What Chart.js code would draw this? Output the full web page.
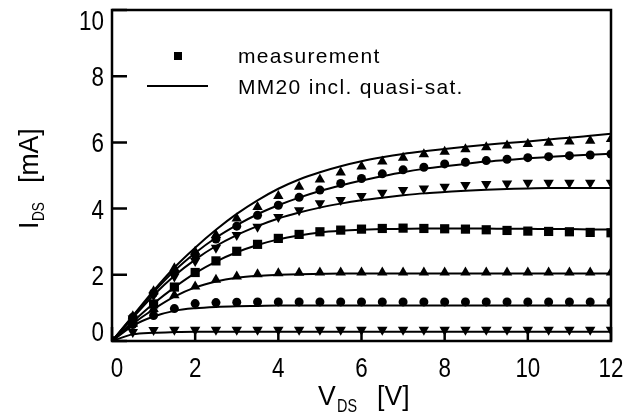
<!DOCTYPE html>
<html>
<head>
<meta charset="utf-8">
<script src="https://cdn.jsdelivr.net/npm/chart.js@4.4.1/dist/chart.umd.min.js"></script>
<style>
  html, body { margin: 0; padding: 0; background: #fff; }
  #wrap { width: 641px; height: 419px; }
</style>
</head>
<body>
<div id="wrap"><canvas id="iv-chart" width="641" height="419"></canvas></div>
<script>
// drain voltage grid (V)
const vds = [0, 0.5, 1, 1.5, 2, 2.5, 3, 3.5, 4, 4.5, 5, 5.5, 6, 6.5, 7, 7.5, 8, 8.5, 9, 9.5, 10, 10.5, 11, 11.5, 12];

// measured drain current (mA), one list per gate bias, top curve first
const measTriTop = [0, 0.75, 1.5, 2.2, 2.7, 3.2, 3.7, 4.05, 4.38, 4.66, 4.88, 5.09, 5.27, 5.42, 5.54, 5.64, 5.72, 5.79, 5.85, 5.91, 5.95, 5.99, 6.03, 6.05, 6.1];
const measDotTop = [0, 0.72, 1.45, 2.08, 2.6, 3.08, 3.47, 3.8, 4.1, 4.34, 4.56, 4.76, 4.91, 5.05, 5.17, 5.25, 5.35, 5.4, 5.45, 5.49, 5.54, 5.57, 5.6, 5.62, 5.65];
const measInvTop = [0, 0.68, 1.38, 1.95, 2.42, 2.82, 3.2, 3.45, 3.75, 3.95, 4.16, 4.26, 4.38, 4.48, 4.56, 4.61, 4.66, 4.71, 4.74, 4.76, 4.78, 4.78, 4.78, 4.78, 4.78];
const measSquare = [0, 0.58, 1.12, 1.63, 2.07, 2.42, 2.71, 2.92, 3.1, 3.22, 3.3, 3.35, 3.38, 3.4, 3.41, 3.4, 3.39, 3.38, 3.36, 3.34, 3.32, 3.31, 3.3, 3.28, 3.27];
const measTriLow = [0, 0.52, 0.97, 1.38, 1.65, 1.85, 1.95, 2.02, 2.05, 2.06, 2.07, 2.07, 2.07, 2.07, 2.07, 2.07, 2.07, 2.07, 2.07, 2.07, 2.07, 2.07, 2.07, 2.07, 2.07];
const measDotLow = [0, 0.5, 0.77, 0.98, 1.13, 1.16, 1.17, 1.18, 1.18, 1.18, 1.18, 1.18, 1.18, 1.18, 1.18, 1.18, 1.18, 1.18, 1.18, 1.18, 1.18, 1.18, 1.18, 1.18, 1.18];
const measInvLow = [0, 0.27, 0.33, 0.34, 0.34, 0.34, 0.34, 0.34, 0.34, 0.34, 0.34, 0.34, 0.34, 0.34, 0.34, 0.34, 0.34, 0.34, 0.34, 0.34, 0.34, 0.34, 0.34, 0.34, 0.34];

// MM20 model (mA), same order
const modTriTop = [0, 0.76, 1.52, 2.22, 2.82, 3.36, 3.84, 4.25, 4.6, 4.88, 5.1, 5.28, 5.43, 5.55, 5.65, 5.73, 5.8, 5.87, 5.93, 5.98, 6.03, 6.09, 6.14, 6.2, 6.26];
const modDotTop = [0, 0.74, 1.47, 2.12, 2.66, 3.12, 3.5, 3.83, 4.1, 4.33, 4.53, 4.7, 4.85, 4.98, 5.1, 5.2, 5.28, 5.35, 5.42, 5.47, 5.52, 5.56, 5.6, 5.63, 5.66];
const modInvTop = [0, 0.7, 1.38, 1.97, 2.46, 2.87, 3.2, 3.47, 3.7, 3.88, 4.03, 4.15, 4.25, 4.33, 4.4, 4.46, 4.5, 4.54, 4.57, 4.59, 4.61, 4.62, 4.62, 4.62, 4.62];
const modSquare = [0, 0.58, 1.13, 1.62, 2.05, 2.4, 2.68, 2.9, 3.07, 3.19, 3.28, 3.33, 3.36, 3.38, 3.39, 3.4, 3.4, 3.4, 3.4, 3.39, 3.39, 3.38, 3.38, 3.37, 3.37];
const modTriLow = [0, 0.52, 0.96, 1.34, 1.62, 1.8, 1.91, 1.97, 2.0, 2.02, 2.03, 2.04, 2.04, 2.04, 2.04, 2.04, 2.04, 2.04, 2.04, 2.04, 2.04, 2.04, 2.04, 2.04, 2.04];
const modDotLow = [0, 0.46, 0.74, 0.91, 0.99, 1.03, 1.05, 1.06, 1.07, 1.07, 1.07, 1.07, 1.07, 1.07, 1.07, 1.07, 1.07, 1.07, 1.07, 1.07, 1.07, 1.07, 1.07, 1.07, 1.07];
const modInvLow = [0, 0.2, 0.25, 0.27, 0.28, 0.28, 0.28, 0.28, 0.28, 0.28, 0.28, 0.28, 0.28, 0.28, 0.28, 0.28, 0.28, 0.28, 0.28, 0.28, 0.28, 0.28, 0.28, 0.28, 0.28];

const xTickValues = [0, 2, 4, 6, 8, 10, 12];
const yTickValues = [0, 2, 4, 6, 8, 10];
const legendLabels = ["measurement", "MM20 incl. quasi-sat."];

const toPoints = (ys) => vds.map((v, i) => ({ x: v, y: ys[i] }));

const markerSet = (ys, style, rot, radius) => ({
  data: toPoints(ys),
  showLine: false,
  pointStyle: style,
  pointRotation: rot,
  pointRadius: radius,
  pointBackgroundColor: "#000",
  pointBorderColor: "#000",
  pointBorderWidth: 0,
  clip: 0,
});

const modelSet = (ys) => ({
  data: toPoints(ys),
  borderColor: "#000",
  borderWidth: 2,
  pointRadius: 0,
  cubicInterpolationMode: "monotone",
  clip: 0,
});

const baseFace = "'Liberation Sans', Arial, sans-serif";

// draws text squeezed horizontally, the plot font is a narrow one
function narrowText(ctx, text, x, y, size, align, squeeze) {
  ctx.save();
  ctx.font = size + "px " + baseFace;
  ctx.textAlign = align;
  ctx.translate(x, y);
  ctx.scale(squeeze, 1);
  ctx.fillText(text, 0, 0);
  ctx.restore();
}

const decorations = {
  id: "decorations",
  afterDatasetsDraw(chart) {
    const { ctx, chartArea: a, scales: { x, y } } = chart;
    ctx.save();
    ctx.strokeStyle = "#000";
    ctx.fillStyle = "#000";

    // frame + inward ticks
    ctx.lineWidth = 2.5;
    ctx.strokeRect(a.left, a.top, a.right - a.left, a.bottom - a.top);
    ctx.beginPath();
    yTickValues.forEach((v) => {
      const py = y.getPixelForValue(v);
      ctx.moveTo(a.left, py);
      ctx.lineTo(a.left + 15, py);
    });
    xTickValues.forEach((v) => {
      const px = x.getPixelForValue(v);
      ctx.moveTo(px, a.bottom);
      ctx.lineTo(px, a.bottom - 14);
    });
    ctx.stroke();

    // tick labels
    ctx.textBaseline = "alphabetic";
    yTickValues.forEach((v) => {
      const py = Math.min(Math.max(y.getPixelForValue(v), a.top + 10), a.bottom - 10);
      narrowText(ctx, String(v), a.left - 8, py + 10, 28, "right", 0.8);
    });
    xTickValues.forEach((v) => {
      const px = Math.max(x.getPixelForValue(v), a.left + 5);
      narrowText(ctx, String(v), px, a.bottom + 36, 28, "center", 0.8);
    });

    // x title: V_DS [V]
    narrowText(ctx, "V", 318, 405, 28, "left", 0.95);
    narrowText(ctx, "DS", 337, 412, 18, "left", 0.8);
    narrowText(ctx, "[V]", 377, 405, 28, "left", 0.95);

    // y title: I_DS [mA]
    ctx.save();
    ctx.translate(38, 229);
    ctx.rotate(-Math.PI / 2);
    narrowText(ctx, "I", 0, 0, 28, "left", 0.95);
    narrowText(ctx, "DS", 8, 6, 17, "left", 0.8);
    narrowText(ctx, "[mA]", 46, 0, 28, "left", 0.95);
    ctx.restore();

    // legend
    ctx.fillRect(174, 52, 8, 8);
    ctx.lineWidth = 2;
    ctx.beginPath();
    ctx.moveTo(147, 86);
    ctx.lineTo(208, 86);
    ctx.stroke();
    ctx.font = "21px " + baseFace;
    ctx.textAlign = "left";
    if ("letterSpacing" in ctx) ctx.letterSpacing = "1.3px";
    ctx.fillText(legendLabels[0], 238, 63);
    ctx.fillText(legendLabels[1], 238, 94);
    ctx.restore();
  },
};

new Chart("iv-chart", {
  type: "line",
  data: {
    datasets: [
      modelSet(modTriTop),
      modelSet(modDotTop),
      modelSet(modInvTop),
      modelSet(modSquare),
      modelSet(modTriLow),
      modelSet(modDotLow),
      modelSet(modInvLow),
      markerSet(measTriTop, "triangle", 0, 6),
      markerSet(measDotTop, "circle", 0, 4.5),
      markerSet(measInvTop, "triangle", 180, 6),
      markerSet(measSquare, "rect", 0, 6.5),
      markerSet(measTriLow, "triangle", 0, 6),
      markerSet(measDotLow, "circle", 0, 4.5),
      markerSet(measInvLow, "triangle", 180, 6),
    ],
  },
  options: {
    responsive: false,
    animation: false,
    devicePixelRatio: 1,
    layout: { padding: { top: 10, right: 30, left: 0, bottom: 0 } },
    plugins: {
      legend: { display: false },
      tooltip: { enabled: false },
    },
    scales: {
      x: {
        type: "linear",
        min: 0,
        max: 12,
        border: { display: false },
        grid: { display: false },
        ticks: { display: false, stepSize: 2 },
        afterFit: (scale) => { scale.height = 78; },
      },
      y: {
        type: "linear",
        min: 0,
        max: 10,
        border: { display: false },
        grid: { display: false },
        ticks: { display: false, stepSize: 2 },
        afterFit: (scale) => { scale.width = 112; },
      },
    },
  },
  plugins: [decorations],
});
</script>
</body>
</html>
